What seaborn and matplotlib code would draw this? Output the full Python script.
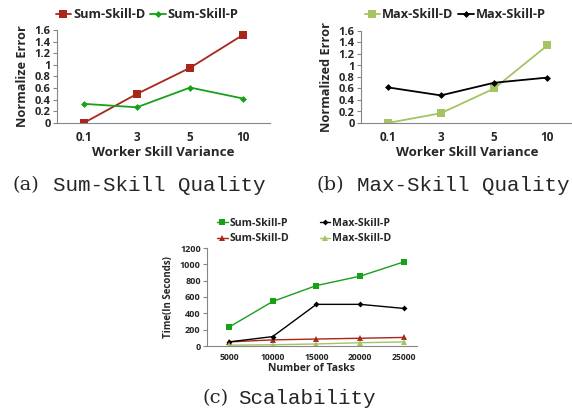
import numpy as np
import pandas as pd
import matplotlib.pyplot as plt
import seaborn as sns
from matplotlib.ticker import FixedLocator

sns.set_style('white')
plt.rcParams['font.family'] = ['Open Sans', 'DejaVu Sans']

# data
variance = ['0.1', '3', '5', '10']
sum_d = [0.0, 0.50, 0.95, 1.52]
sum_p = [0.33, 0.27, 0.61, 0.42]
max_d = [0.0, 0.17, 0.60, 1.35]
max_p = [0.62, 0.48, 0.70, 0.79]

tasks = ['5000', '10000', '15000', '20000', '25000']
t_sum_p = [230, 545, 740, 855, 1030]
t_max_p = [50, 115, 510, 510, 460]
t_sum_d = [50, 75, 85, 95, 105]
t_max_d = [10, 15, 25, 40, 50]

red = '#A8261A'
green = '#18A018'
lgreen = '#A4C464'
black = '#000000'
axis_gray = '#868686'

fig = plt.figure(figsize=(5.72, 4.11), dpi=100)
fig.set_facecolor('white')


def style_axis(ax, n, ylim, yticks, xfs, yfs, pad_x):
    ax.set_xlim(-0.5, n - 0.5)
    ax.set_ylim(*ylim)
    ax.set_yticks(yticks)
    ax.set_xticks(range(n))
    ax.xaxis.set_minor_locator(FixedLocator(np.arange(-0.5, n, 1.0)))
    for s in ['top', 'right']:
        ax.spines[s].set_visible(False)
    for s in ['left', 'bottom']:
        ax.spines[s].set_color(axis_gray)
        ax.spines[s].set_linewidth(0.8)
    ax.tick_params(axis='x', which='major', length=0, pad=pad_x,
                   labelsize=xfs)
    ax.tick_params(axis='x', which='minor', length=3, direction='out',
                   color=axis_gray, width=0.8)
    ax.tick_params(axis='y', length=3, direction='out', color=axis_gray,
                   width=0.8, pad=1.5, labelsize=yfs)
    ax.tick_params(left=True, bottom=True)


def quality_panel(rect, series, ylabel, leg_xy):
    ax = fig.add_axes(rect)
    for name, vals, col, mk, ms in series:
        df = pd.DataFrame({'x': np.arange(len(variance)), 'y': vals})
        sns.lineplot(data=df, x='x', y='y', ax=ax, color=col, marker=mk,
                     markersize=ms, markeredgewidth=0, linewidth=1.3,
                     label=name)
    style_axis(ax, len(variance), (0, 1.6), np.arange(0, 1.61, 0.2), 8.5, 8, 6)
    ax.set_yticklabels(['0', '0.2', '0.4', '0.6', '0.8', '1', '1.2', '1.4', '1.6'],
                       fontweight='bold')
    ax.set_xticklabels(variance, fontweight='bold')
    ax.set_xlim(-0.5, 3.5)
    ax.set_xlabel('Worker Skill Variance', fontsize=9.6, fontweight='bold',
                  labelpad=1)
    ax.set_ylabel(ylabel, fontsize=9.2, fontweight='bold', labelpad=4)
    ax.legend(loc='center', bbox_to_anchor=leg_xy,
              bbox_transform=fig.transFigure, ncol=2, frameon=False,
              handlelength=1.2, handletextpad=0.15, columnspacing=0.4,
              prop={'weight': 'bold', 'size': 9.2}, borderpad=0)
    return ax


quality_panel([57 / 572, 1 - 123 / 411, 213 / 572, 93 / 411],
              [('Sum-Skill-D', sum_d, red, 's', 5.5),
               ('Sum-Skill-P', sum_p, green, 'D', 3.5)],
              'Normalize Error', (147 / 572, 1 - 15 / 411))

quality_panel([361 / 572, 1 - 123 / 411, 213 / 572, 92 / 411],
              [('Max-Skill-D', max_d, lgreen, 's', 5.5),
               ('Max-Skill-P', max_p, black, 'D', 3.5)],
              'Normalized Error', (455 / 572, 1 - 15 / 411))

# scalability panel
axc = fig.add_axes([207 / 572, 1 - 346 / 411, 210 / 572, 98 / 411])
for name, vals, col, mk, ms in [('Sum-Skill-P', t_sum_p, green, 's', 4.5),
                                ('Sum-Skill-D', t_sum_d, red, '^', 4),
                                ('Max-Skill-P', t_max_p, black, 'D', 3),
                                ('Max-Skill-D', t_max_d, lgreen, '^', 4)]:
    df = pd.DataFrame({'x': np.arange(len(tasks)), 'y': vals})
    sns.lineplot(data=df, x='x', y='y', ax=axc, color=col, marker=mk,
                 markersize=ms, markeredgewidth=0, linewidth=1.0, label=name)
style_axis(axc, len(tasks), (0, 1200), np.arange(0, 1201, 200), 6.2, 6.5, 5)
axc.set_xticklabels(tasks, fontweight='bold')
axc.set_yticklabels([str(v) for v in range(0, 1201, 200)], fontweight='bold')
axc.set_xlim(-0.5, 4.3)
axc.set_xlabel('Number of Tasks', fontsize=7.5, fontweight='bold', labelpad=1)
axc.set_ylabel('Time(In Seconds)', fontsize=7, fontweight='bold', labelpad=4)
axc.legend(loc='center', bbox_to_anchor=(304 / 572, 1 - 231 / 411),
           bbox_transform=fig.transFigure, ncol=2, frameon=False,
           handlelength=1.0, handletextpad=0.15, columnspacing=2.9,
           labelspacing=0.45, prop={'weight': 'bold', 'size': 7.6}, borderpad=0)

# captions: serif label plus typewriter title
cap_fs = 15
for x0, x1, y, tag, title in [(13, 53, 185, '(a)', 'Sum-Skill Quality'),
                              (317, 357, 185, '(b)', 'Max-Skill Quality'),
                              (202, 238, 398, '(c)', 'Scalability')]:
    fig.text(x0 / 572, 1 - y / 411, tag, family='DejaVu Serif',
             fontsize=cap_fs - 1, va='center', ha='left')
    fig.text(x1 / 572, 1 - y / 411, title, family='Liberation Mono',
             fontsize=cap_fs, va='center', ha='left')

fig.savefig('out.png', dpi=100)
